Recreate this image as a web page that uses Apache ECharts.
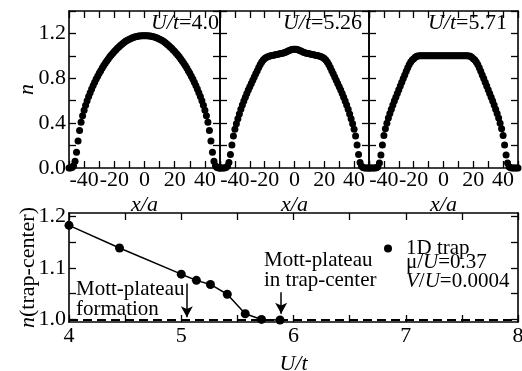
<!DOCTYPE html>
<html><head><meta charset="utf-8">
<script src="https://cdn.jsdelivr.net/npm/echarts@6/dist/echarts.min.js"></script>
<style>html,body{margin:0;padding:0;background:#fff}#c{width:522px;height:371px}</style>
</head><body><div id="c"></div>
<script>
// lattice sites x/a
const sites = [-50,-49,-48,-47,-46,-45,-44,-43,-42,-41,-40,-39,-38,-37,-36,-35,-34,-33,-32,-31,-30,-29,-28,-27,-26,-25,-24,-23,-22,-21,-20,-19,-18,-17,-16,-15,-14,-13,-12,-11,-10,-9,-8,-7,-6,-5,-4,-3,-2,-1,0,1,2,3,4,5,6,7,8,9,10,11,12,13,14,15,16,17,18,19,20,21,22,23,24,25,26,27,28,29,30,31,32,33,34,35,36,37,38,39,40,41,42,43,44,45,46,47,48,49,50];
// density profiles n(x)
const nU400 = [0.000,0.000,0.005,0.020,0.060,0.140,0.240,0.335,0.408,0.465,0.515,0.560,0.600,0.637,0.672,0.705,0.736,0.765,0.793,0.819,0.844,0.868,0.891,0.913,0.934,0.954,0.973,0.991,1.008,1.024,1.039,1.053,1.067,1.080,1.092,1.104,1.115,1.125,1.134,1.142,1.149,1.155,1.161,1.166,1.170,1.173,1.176,1.178,1.179,1.180,1.180,1.180,1.179,1.178,1.176,1.173,1.170,1.166,1.161,1.155,1.149,1.142,1.134,1.125,1.115,1.104,1.092,1.080,1.067,1.053,1.039,1.024,1.008,0.991,0.973,0.954,0.934,0.913,0.891,0.868,0.844,0.819,0.793,0.765,0.736,0.705,0.672,0.637,0.600,0.560,0.515,0.465,0.408,0.335,0.240,0.140,0.060,0.020,0.005,0.000,0.000];
const nU526 = [0.000,0.000,0.000,0.000,0.005,0.015,0.050,0.120,0.205,0.285,0.345,0.395,0.440,0.482,0.524,0.562,0.598,0.632,0.664,0.695,0.725,0.754,0.783,0.812,0.840,0.868,0.896,0.922,0.945,0.963,0.976,0.985,0.991,0.996,1.000,1.003,1.006,1.009,1.012,1.015,1.018,1.021,1.024,1.028,1.033,1.039,1.045,1.051,1.056,1.059,1.060,1.059,1.056,1.051,1.045,1.039,1.033,1.028,1.024,1.021,1.018,1.015,1.012,1.009,1.006,1.003,1.000,0.996,0.991,0.985,0.976,0.963,0.945,0.922,0.896,0.868,0.840,0.812,0.783,0.754,0.725,0.695,0.664,0.632,0.598,0.562,0.524,0.482,0.440,0.395,0.345,0.285,0.205,0.120,0.050,0.015,0.005,0.000,0.000,0.000,0.000];
const nU571 = [0.000,0.000,0.000,0.000,0.000,0.003,0.012,0.045,0.115,0.205,0.290,0.350,0.400,0.446,0.487,0.525,0.562,0.598,0.632,0.665,0.698,0.731,0.764,0.797,0.830,0.862,0.893,0.922,0.945,0.962,0.975,0.988,0.996,0.999,1.000,1.000,1.000,1.000,1.000,1.000,1.000,1.000,1.000,1.000,1.000,1.000,1.000,1.000,1.000,1.000,1.000,1.000,1.000,1.000,1.000,1.000,1.000,1.000,1.000,1.000,1.000,1.000,1.000,1.000,1.000,1.000,1.000,0.999,0.996,0.988,0.975,0.962,0.945,0.922,0.893,0.862,0.830,0.797,0.764,0.731,0.698,0.665,0.632,0.598,0.562,0.525,0.487,0.446,0.400,0.350,0.290,0.205,0.115,0.045,0.012,0.003,0.000,0.000,0.000,0.000,0.000];
// trap-center density vs U/t
const Ut = [4.00,4.45,5.00,5.135,5.26,5.41,5.57,5.715,5.88];
const nCenter = [1.183,1.139,1.088,1.076,1.068,1.049,1.011,1.000,0.999];
const panelLabels = ['4.0','5.26','5.71'];

const FF = "'Liberation Serif','Times New Roman',serif";
const FS = 22;
const FA = 21;
const K = '#000';
const chart = echarts.init(document.getElementById('c'), null, {renderer:'canvas'});

const profiles = [nU400, nU526, nU571];
const gb = {outerBoundsMode:'none', containLabel:false};
const grids = [
  Object.assign({left:69, top:11, width:151, height:157}, gb),
  Object.assign({left:220, top:11, width:149, height:157}, gb),
  Object.assign({left:369, top:11, width:149, height:157}, gb),
  Object.assign({left:69, top:213, width:449, height:109}, gb)
];
const line = {show:true, onZero:false, lineStyle:{color:K, width:1.6}};
const tick = (len)=>({show:true, inside:true, length:len, lineStyle:{color:K, width:1.3}});
const xAxes = [], yAxes = [], series = [];
for (let p=0;p<3;p++){
  xAxes.push({gridIndex:p, type:'value', min:-50, max:50, interval:10, position:'bottom',
    axisLine:line, axisTick:tick(7), splitLine:{show:false},
    axisLabel:{color:K, fontFamily:FF, fontSize:FS, margin:1, formatter:v=> (v%20===0 && Math.abs(v)<50)? String(v):''},
    name:'x/a', nameLocation:'middle', nameGap:26, nameTextStyle:{color:K, fontFamily:FF, fontSize:FS, fontStyle:'italic'}});
  xAxes.push({gridIndex:p, type:'value', min:-50, max:50, interval:10, position:'top',
    axisLine:line, axisTick:tick(7), axisLabel:{show:false}, splitLine:{show:false}});
  yAxes.push({gridIndex:p, type:'value', min:0, max:1.4, interval:0.2, position:'left',
    axisLine:line, axisTick:tick(7), splitLine:{show:false},
    axisLabel:{show:p===0, color:K, fontFamily:FF, fontSize:FS, margin:3, formatter:v=>{const k=Math.round(v*10); return (k%4===0 && k<14)? v.toFixed(1):'';}},
    name: p===0?'n':'', nameLocation:'middle', nameGap:31, nameMoveOverlap:false,
    nameTextStyle:{color:K, fontFamily:FF, fontSize:FS, fontStyle:'italic'}});
  yAxes.push({gridIndex:p, type:'value', min:0, max:1.4, interval:0.2, position:'right',
    axisLine:line, axisTick:tick(7), axisLabel:{show:false}, splitLine:{show:false}});
  series.push({type:'scatter', xAxisIndex:2*p, yAxisIndex:2*p, symbol:'circle', symbolSize:7,
    itemStyle:{color:K, opacity:1}, silent:true, clip:false,
    data: sites.map((x,i)=>[x, profiles[p][i]])});
}
// bottom panel
xAxes.push({gridIndex:3, type:'value', min:4, max:8, interval:0.5, position:'bottom',
  axisLine:line, axisTick:tick(7), splitLine:{show:false},
  axisLabel:{color:K, fontFamily:FF, fontSize:FS, margin:3, formatter:v=> Number.isInteger(v)? String(v):''},
  name:'U/t', nameLocation:'middle', nameGap:31, nameTextStyle:{color:K, fontFamily:FF, fontSize:FS, fontStyle:'italic'}});
xAxes.push({gridIndex:3, type:'value', min:4, max:8, interval:0.5, position:'top',
  axisLine:line, axisTick:tick(7), axisLabel:{show:false}, splitLine:{show:false}});
const yTicksB = [1.0,1.05,1.1,1.15,1.2];
yAxes.push({gridIndex:3, type:'value', min:0.995, max:1.207, position:'left',
  axisLine:line, axisTick:Object.assign(tick(7),{customValues:yTicksB}), splitLine:{show:false},
  axisLabel:{color:K, fontFamily:FF, fontSize:FS, margin:3, customValues:[1.0,1.1,1.2], formatter:v=>v.toFixed(1)},
  name:'{i|n}(trap-center)', nameLocation:'middle', nameGap:30, nameMoveOverlap:false,
  nameTextStyle:{color:K, fontFamily:FF, fontSize:FS, rich:{i:{fontStyle:'italic', fontFamily:FF, fontSize:FS, color:K}}}});
yAxes.push({gridIndex:3, type:'value', min:0.995, max:1.207, position:'right',
  axisLine:line, axisTick:Object.assign(tick(7),{customValues:yTicksB}), axisLabel:{show:false}, splitLine:{show:false}});
series.push({name:'1D trap', type:'line', xAxisIndex:6, yAxisIndex:6, symbol:'circle', symbolSize:9, showSymbol:true,
  lineStyle:{color:K, width:1.5}, itemStyle:{color:K, opacity:1}, silent:true, z:3,
  data: Ut.map((u,i)=>[u, nCenter[i]]),
  markLine:{silent:true, symbol:['none','none'], label:{show:false}, animation:false,
    data:[
      [{coord:[4,1.0], lineStyle:{color:K, width:1.8, type:[9,5]}},{coord:[8,1.0]}],
      [{coord:[5.05,1.070], symbol:'none', lineStyle:{color:K, width:1.5, type:'solid'}},{coord:[5.05,1.004], symbol:'arrow', symbolSize:[9,11]}],
      [{coord:[5.89,1.053], symbol:'none', lineStyle:{color:K, width:1.5, type:'solid'}},{coord:[5.89,1.011], symbol:'arrow', symbolSize:[9,11]}]
    ]}
});

function rich(fs){ return {i:{fontStyle:'italic', fontFamily:FF, fontSize:fs, fill:K}, r:{fontFamily:FF, fontSize:fs, fill:K}}; }
function txt(x,y,text,align,fs){
  fs = fs||FA;
  return {type:'text', x:x, y:y, silent:true, style:{text:text, rich:rich(fs), fontFamily:FF, fontSize:fs, fill:K, align:align||'left', verticalAlign:'middle'}};
}
const graphics = [
  txt(219,23,'{i|U/t}{r|='+panelLabels[0]+'}','right',FS),
  txt(362,23,'{i|U/t}{r|='+panelLabels[1]+'}','right',FS),
  txt(507,23,'{i|U/t}{r|='+panelLabels[2]+'}','right',FS),
  txt(76,289,'{r|Mott-plateau}'),
  txt(76,309,'{r|formation}'),
  txt(264,260,'{r|Mott-plateau}'),
  txt(264,280,'{r|in trap-center}'),
  txt(406,262,'{r|μ/}{i|U}{r|=0.37}'),
  txt(406,281,'{i|V}{r|/}{i|U}{r|=0.0004}')
];

chart.setOption({
  animation:false,
  backgroundColor:'#fff',
  grid:grids,
  xAxis:xAxes,
  yAxis:yAxes,
  series:series,
  legend:{data:['1D trap'], left:379, top:233, icon:'circle', itemWidth:8, itemHeight:8,
    textStyle:{color:K, fontFamily:FF, fontSize:FA, padding:[0,0,0,9]}, selectedMode:false},
  graphic:graphics
});
</script></body></html>
